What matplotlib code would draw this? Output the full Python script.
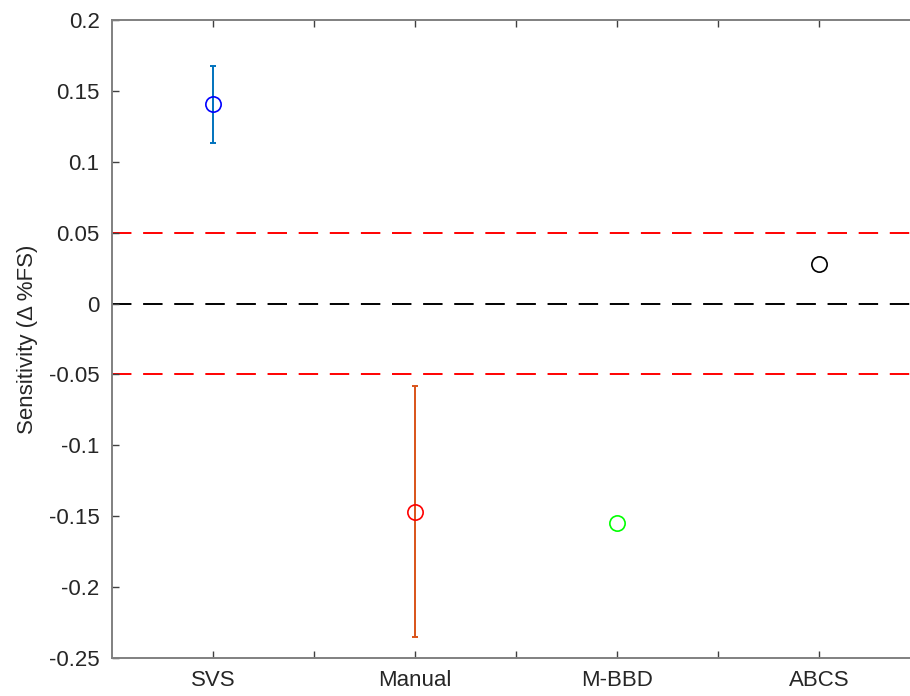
import matplotlib
matplotlib.use("Agg")
import matplotlib.pyplot as plt
import numpy as np

plt.rcParams['font.family'] = ['Liberation Sans', 'DejaVu Sans']

# data
methods = ['SVS', 'Manual', 'M-BBD', 'ABCS']
xpos = [1, 3, 5, 7]
sensitivity = [0.1405, -0.147, -0.1547, 0.028]
err = [0.027, 0.0885, None, None]
marker_colors = ['#0000ff', '#ff0000', '#00ff00', '#000000']
bar_colors = ['#0072bd', '#d95319', None, None]

tick_pos = [1, 2, 3, 4, 5, 6, 7, 8]
tick_labels = ['SVS', '', 'Manual', '', 'M-BBD', '', 'ABCS', '']
yticks = [0.2, 0.15, 0.1, 0.05, 0, -0.05, -0.1, -0.15, -0.2, -0.25]
ytick_labels = ['0.2', '0.15', '0.1', '0.05', '0', '-0.05', '-0.1', '-0.15', '-0.2', '-0.25']
limits = [-0.05, 0.05]

fig = plt.figure(figsize=(9.1, 6.96), dpi=100)
# axes run past the right edge, like the original screenshot
ax = fig.add_axes([112 / 910, 1 - 658 / 696, 808 / 910, 638 / 696])

# reference lines
for lim in limits:
    ax.axhline(lim, color='#ff0000', linestyle=(0, (10, 6)), linewidth=1.4, zorder=1)
ax.axhline(0, color='black', linestyle=(0, (10, 6)), linewidth=1.4, zorder=1)

for x, y, e, mc, bc in zip(xpos, sensitivity, err, marker_colors, bar_colors):
    if e is not None:
        ax.errorbar(x, y, yerr=e, fmt='none', ecolor=bc, elinewidth=1.4,
                    capsize=2.5, capthick=1.4, zorder=2)
    ax.plot(x, y, 'o', markersize=11, markerfacecolor='none',
            markeredgecolor=mc, markeredgewidth=1.2, zorder=3)

ax.set_xlim(0, 8)
ax.set_ylim(-0.25, 0.2)
ax.set_xticks(tick_pos)
ax.set_xticklabels(tick_labels)
ax.set_yticks(yticks)
ax.set_yticklabels(ytick_labels)
ax.set_ylabel('Sensitivity (Δ %FS)', fontsize=16, color='#262626', labelpad=8)

ax.tick_params(direction='in', length=5, width=1, colors='#404040',
               labelsize=16, labelcolor='#262626', top=True, right=True)
ax.tick_params(axis='y', pad=9)
ax.tick_params(axis='x', pad=9)
for s in ax.spines.values():
    s.set_color('#808080')
    s.set_linewidth(1.4)

fig.savefig('out.png', dpi=100)
